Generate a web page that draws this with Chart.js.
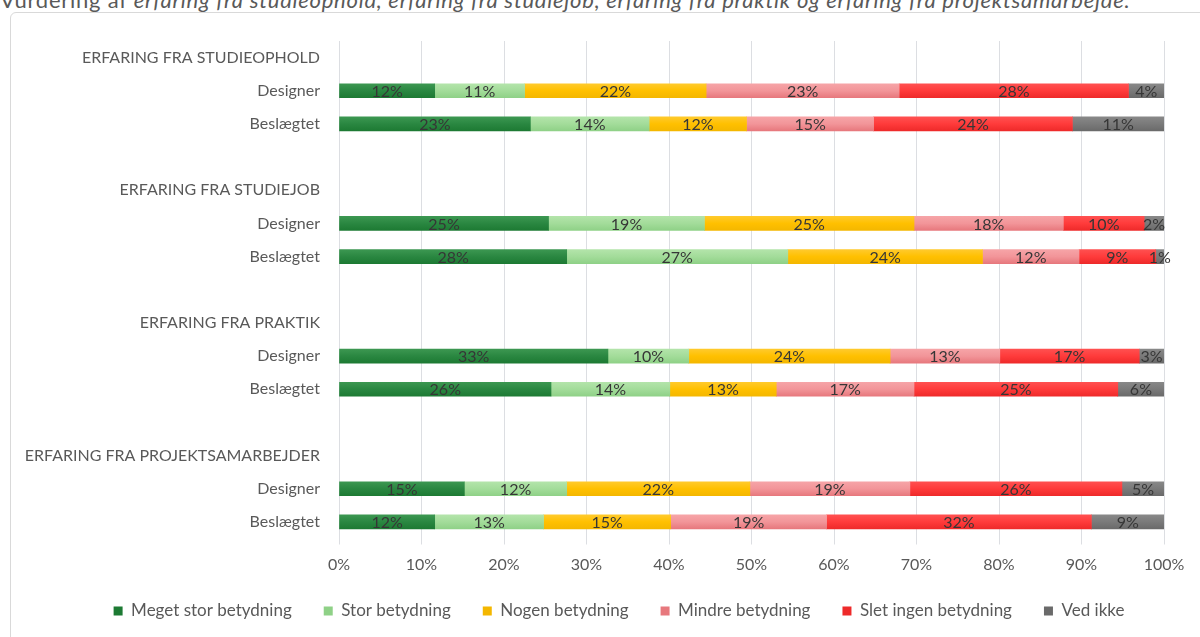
<!DOCTYPE html>
<html lang="da">
<head>
<meta charset="utf-8">
<title>Vurdering af erfaring</title>
<script src="https://cdn.jsdelivr.net/npm/chart.js@4.4.1/dist/chart.umd.min.js"></script>
<style>
  html, body { margin: 0; padding: 0; background: #ffffff; overflow: hidden; }
  body { width: 1200px; height: 637px; position: relative; font-family: Lato, "Open Sans", sans-serif; }
  .heading {
    position: absolute; left: 0; top: -11.5px; white-space: nowrap;
    font-size: 22px; line-height: 22px; letter-spacing: 0.75px; color: #595959;
  }
  .heading em { font-style: italic; }
  .frame {
    position: absolute; left: 10px; top: 12px; width: 1250px; height: 700px;
    border: 1px solid #d9d9d9; border-radius: 6px; box-sizing: border-box;
  }
  .plot { position: absolute; left: 0; top: 0; width: 1200px; height: 637px; }
</style>
</head>
<body>
<div class="heading">Vurdering af <em>erfaring fra studieophold, erfaring fra studiejob, erfaring fra praktik og erfaring fra projektsamarbejde.</em></div>
<div class="frame"></div>
<div class="plot"><canvas id="chart"></canvas></div>
<script>
// Row labels: a group heading, two respondent groups, then a spacer row
const categories = [
  'ERFARING FRA STUDIEOPHOLD', 'Designer', 'Beslægtet', '',
  'ERFARING FRA STUDIEJOB', 'Designer', 'Beslægtet', '',
  'ERFARING FRA PRAKTIK', 'Designer', 'Beslægtet', '',
  'ERFARING FRA PROJEKTSAMARBEJDER', 'Designer', 'Beslægtet'
];

const seriesNames = [
  'Meget stor betydning', 'Stor betydning', 'Nogen betydning',
  'Mindre betydning', 'Slet ingen betydning', 'Ved ikke'
];

// Shares in percent per row (null on heading and spacer rows)
const megetStor = [null, 11.6, 23.2, null, null, 25.4, 27.6, null, null, 32.6, 25.7, null, null, 15.2, 11.6];
const stor      = [null, 10.9, 14.4, null, null, 18.9, 26.8, null, null,  9.8, 14.4, null, null, 12.4, 13.2];
const nogen     = [null, 22.0, 11.8, null, null, 25.4, 23.6, null, null, 24.4, 12.9, null, null, 22.2, 15.4];
const mindre    = [null, 23.4, 15.4, null, null, 18.1, 11.7, null, null, 13.3, 16.7, null, null, 19.4, 18.9];
const sletIngen = [null, 27.8, 24.1, null, null,  9.8,  9.3, null, null, 16.9, 24.7, null, null, 25.7, 32.1];
const vedIkke   = [null,  4.3, 11.1, null, null,  2.4,  1.0, null, null,  3.0,  5.6, null, null,  5.1,  8.8];

const xTicks = [0, 10, 20, 30, 40, 50, 60, 70, 80, 90, 100];

// Base colour plus lighter top / darker bottom shade for each series
const palette = [
  { base: '#2a8741', top: '#3c9751', bottom: '#1d7a33' },
  { base: '#a3dc9a', top: '#b3e4aa', bottom: '#8fd187' },
  { base: '#ffc000', top: '#ffca2c', bottom: '#f4b700' },
  { base: '#f29599', top: '#f6a4a7', bottom: '#e7787d' },
  { base: '#ff3b3b', top: '#ff5050', bottom: '#ee2a2a' },
  { base: '#7a7a7a', top: '#888888', bottom: '#6a6a6a' }
];

const BAR_THICKNESS = 14;

function barFill(index) {
  return (ctx) => {
    const c = palette[index];
    const chart = ctx.chart;
    if (ctx.dataIndex === undefined || !chart.chartArea || !chart.scales.y) return c.base;
    const yc = chart.scales.y.getPixelForValue(ctx.dataIndex);
    const g = chart.ctx.createLinearGradient(0, yc - BAR_THICKNESS / 2, 0, yc + BAR_THICKNESS / 2);
    g.addColorStop(0, c.top);
    g.addColorStop(0.5, c.base);
    g.addColorStop(1, c.bottom);
    return g;
  };
}

const seriesValues = [megetStor, stor, nogen, mindre, sletIngen, vedIkke];

const datasets = seriesNames.map((name, i) => ({
  label: name,
  data: seriesValues[i],
  backgroundColor: barFill(i),
  borderWidth: 0,
  barThickness: BAR_THICKNESS
}));

// Percent label centred in each bar segment
const segmentLabels = {
  id: 'segmentLabels',
  afterDatasetsDraw(chart) {
    const { ctx } = chart;
    ctx.save();
    ctx.font = '16px Lato';
    ctx.fillStyle = '#363636';
    ctx.textAlign = 'center';
    ctx.textBaseline = 'middle';
    chart.data.datasets.forEach((ds, di) => {
      const meta = chart.getDatasetMeta(di);
      if (meta.hidden) return;
      meta.data.forEach((bar, i) => {
        const v = ds.data[i];
        if (v == null) return;
        const { x, y, base } = bar.getProps(['x', 'y', 'base'], true);
        ctx.fillText(Math.round(v) + '%', (x + base) / 2, y + 1);
      });
    });
    ctx.restore();
  }
};

// Nudge the legend row to the right, under the plot area
const legendShift = {
  id: 'legendShift',
  afterLayout(chart) {
    if (chart.legend) chart.legend.left += 74;
  }
};

const textColor = '#595959';
const gridColor = '#dcdee2';

new Chart(document.getElementById('chart'), {
  type: 'bar',
  data: { labels: categories, datasets },
  plugins: [segmentLabels, legendShift],
  options: {
    indexAxis: 'y',
    responsive: true,
    maintainAspectRatio: false,
    animation: false,
    layout: { padding: { left: 0, right: 36, top: 41, bottom: 7.5 } },
    plugins: {
      legend: {
        position: 'bottom',
        labels: {
          boxWidth: 9,
          boxHeight: 9,
          padding: 32,
          color: textColor,
          font: { family: 'Lato', size: 17 }
        }
      },
      tooltip: { enabled: false },
      title: { display: false }
    },
    scales: {
      x: {
        type: 'linear',
        stacked: true,
        min: 0,
        max: 100,
        afterBuildTicks(scale) { scale.ticks = xTicks.map(v => ({ value: v })); },
        afterFit(scale) { scale.height = 32; },
        ticks: {
          callback: v => v + '%',
          color: textColor,
          padding: 11,
          font: { family: 'Lato', size: 16 }
        },
        grid: { color: gridColor, lineWidth: 1, tickLength: 6, drawTicks: true },
        border: { display: false }
      },
      y: {
        type: 'category',
        stacked: true,
        afterFit(scale) { scale.width = 339; },
        ticks: {
          autoSkip: false,
          color: textColor,
          padding: 19,
          font: { family: 'Lato', size: 16 }
        },
        grid: { display: false, drawTicks: false },
        border: { display: false }
      }
    }
  }
});
</script>
</body>
</html>
